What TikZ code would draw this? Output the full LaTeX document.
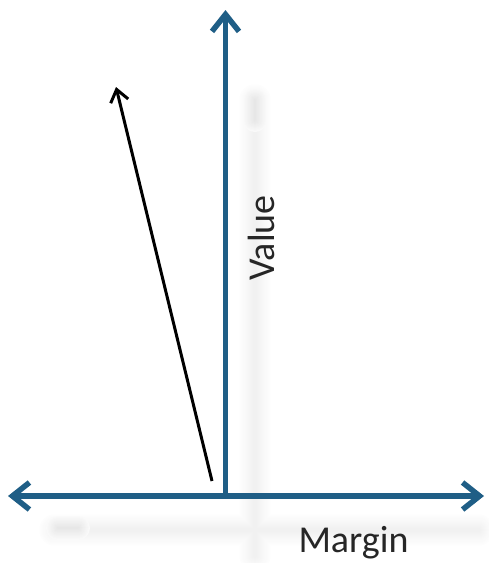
\documentclass[tikz,border=0pt]{standalone}
\usepackage{fontspec}
\setmainfont{Carlito}
\usetikzlibrary{arrows.meta}
\definecolor{axisblue}{RGB}{31,94,134}
\tikzset{
  axisline/.style={draw=axisblue, line width=5.5pt, -{Straight Barb[length=17pt,width=27pt]}},
  vecline/.style={draw=black, line width=3pt, -{Straight Barb[length=12pt,width=18pt]}},
  lbl/.style={font=\fontsize{38}{40}\selectfont, text=black!85, inner sep=0pt},
  shade/.style={line cap=round}
}
\begin{document}
\begin{tikzpicture}[x=1pt,y=-1pt]
\useasboundingbox (0,0) rectangle (488,563);
% soft shadows
\foreach \w [evaluate=\w as \c using 6*(1-\w/34)] in {32,30,...,2}{
  \draw[shade, draw=black!\c, line width=\w pt] (255,100) -- (255,555);
  \draw[shade, draw=black!\c, line width=\w pt] (55,530) -- (478,530);
}
\foreach \w [evaluate=\w as \c using 10*(1-\w/30)] in {24,22,...,2}{
  \draw[shade, draw=black!\c, line width=\w pt] (255,100) -- (255,120);
  \draw[shade, draw=black!\c, line width=\w pt] (58,528) -- (78,528);
}
\coordinate (origin) at (225.5,496);
\coordinate (ytip) at (225.5,10);
\coordinate (xleft) at (8,496);
\coordinate (xright) at (484,496);
\coordinate (vstart) at (212,481);
\coordinate (vtip) at (116,87);
\draw[axisline] (origin) -- (ytip);
\draw[axisline] (origin) -- (xleft);
\draw[axisline] (origin) -- (xright);
\draw[vecline] (vstart) -- (vtip);
\node[lbl, rotate=90] (value) at (261,238) {Value};
\node[lbl] (margin) at (353.5,543) {Margin};
\end{tikzpicture}
\end{document}
